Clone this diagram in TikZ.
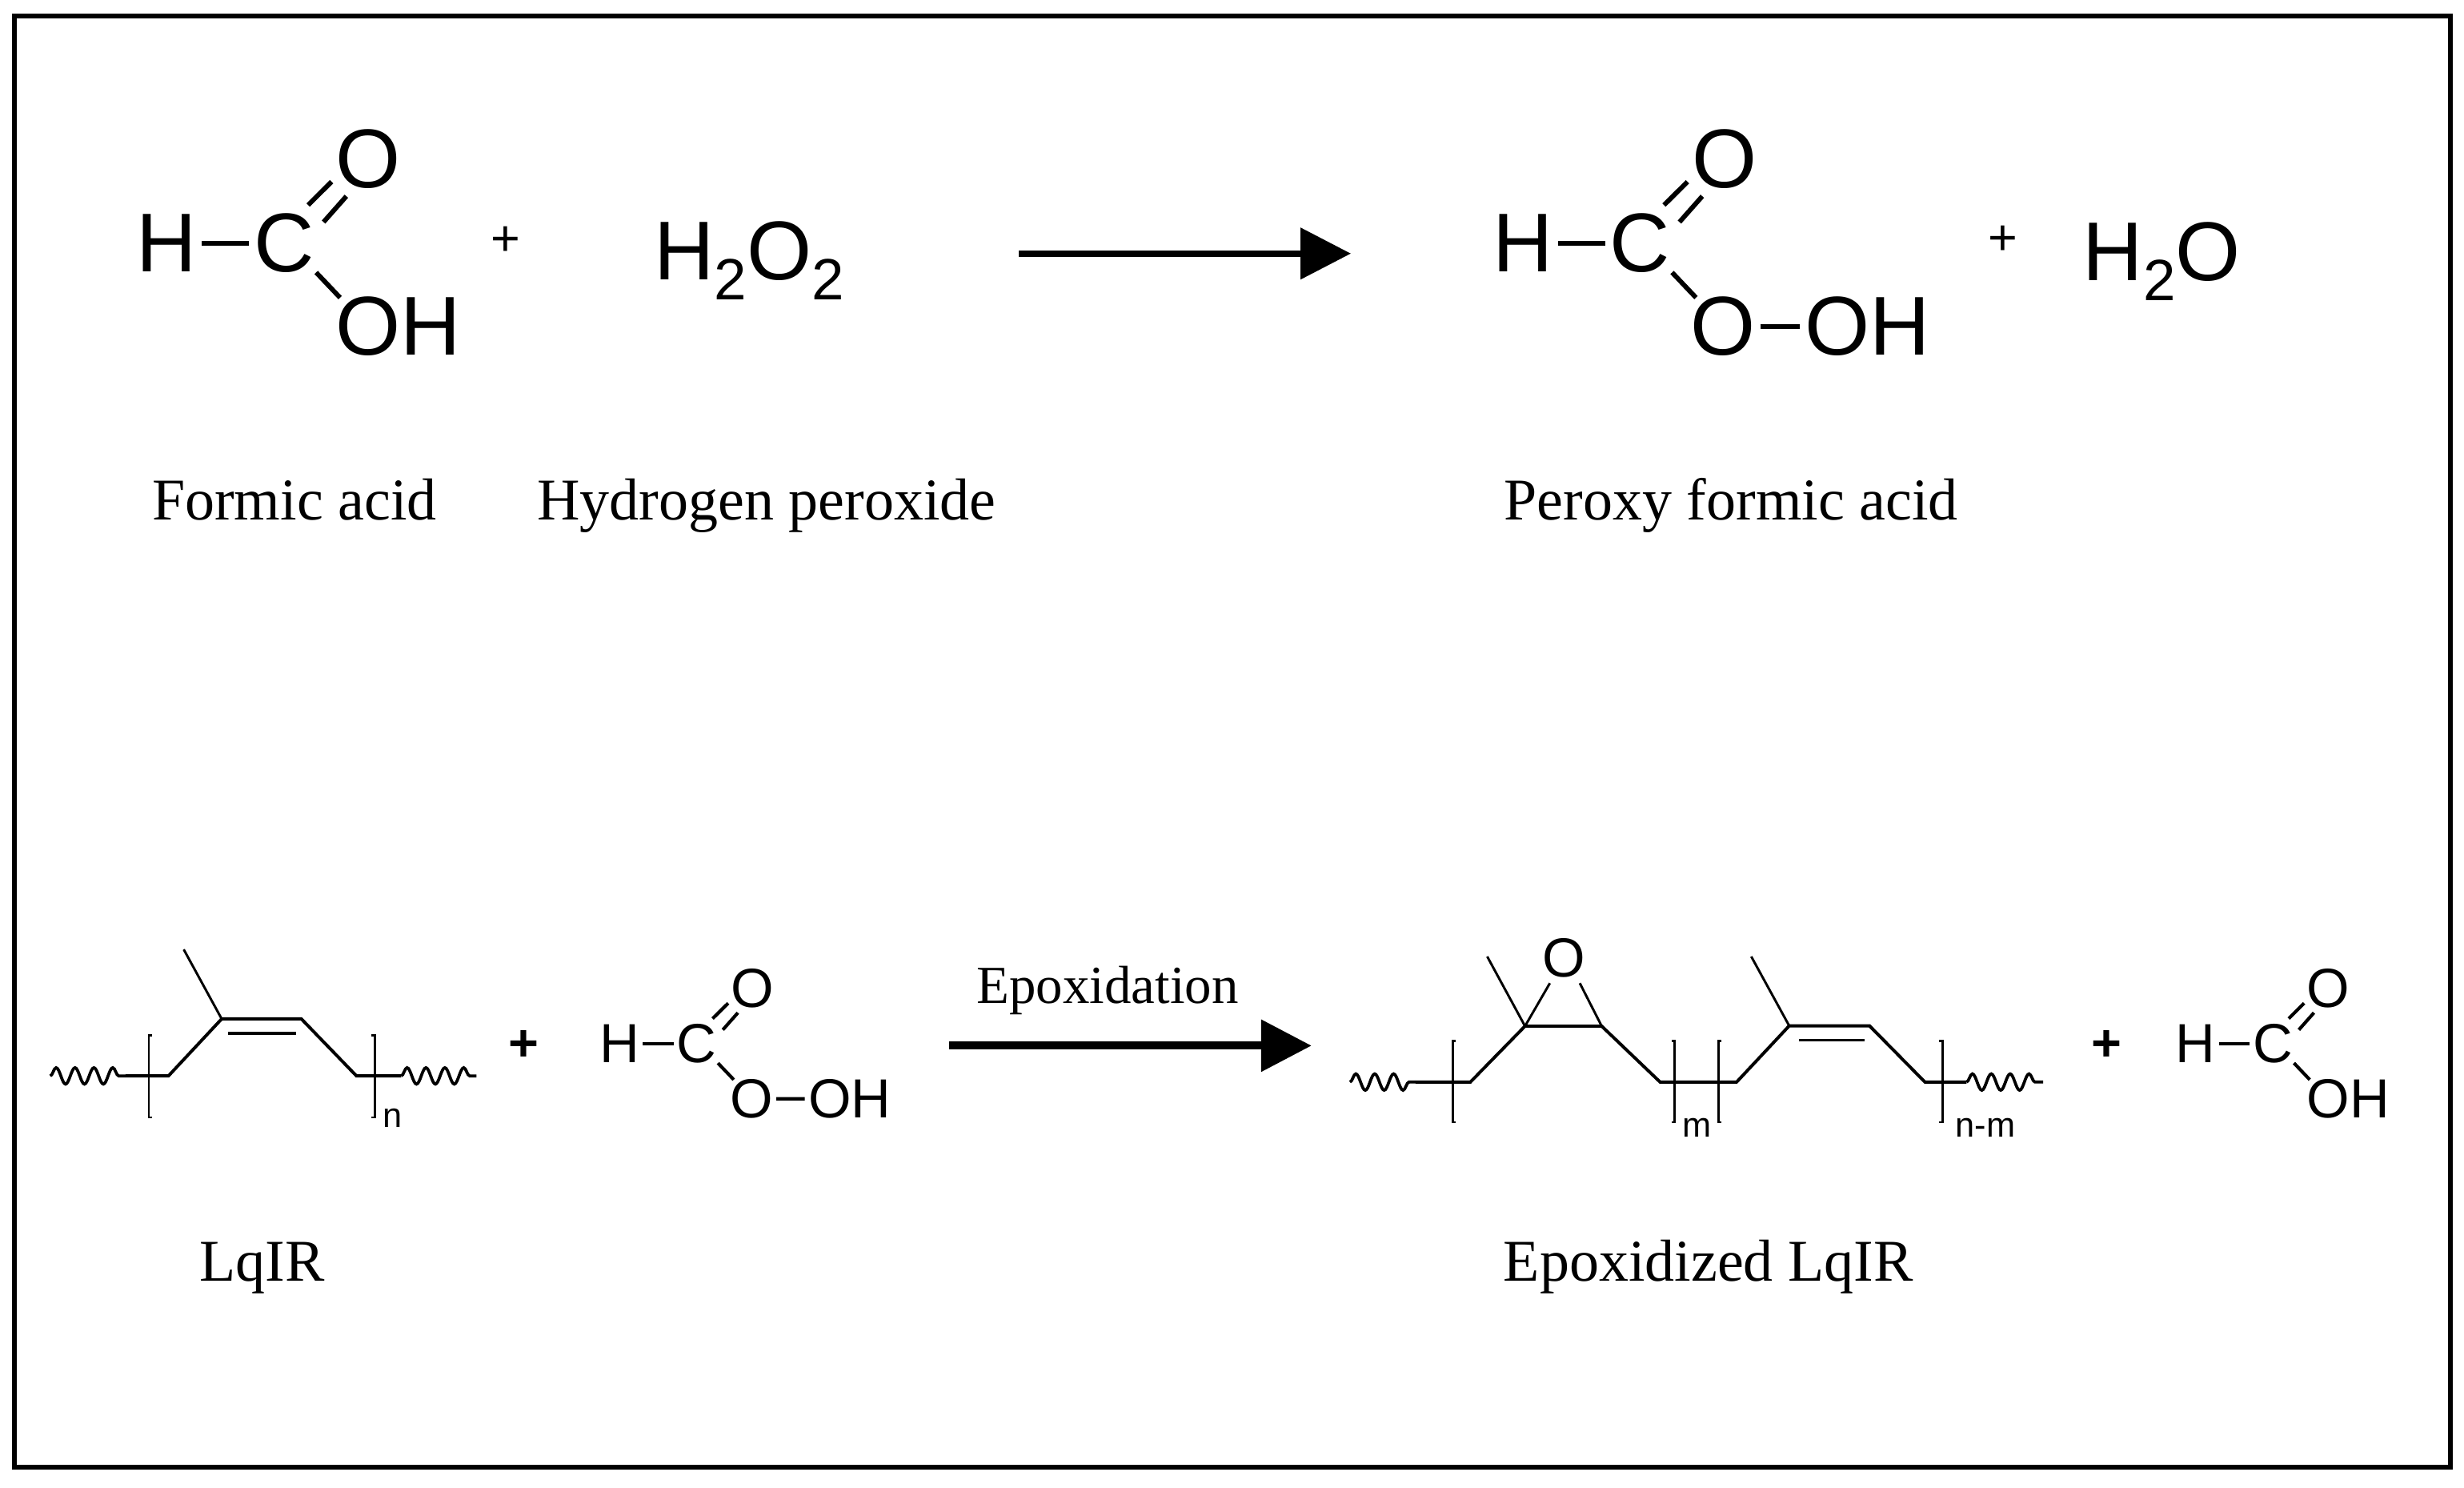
\documentclass[tikz,border=0pt]{standalone}
\usepackage{fontspec}
\setmainfont{Liberation Serif}
\newfontfamily\chemfont{Liberation Sans}
\usetikzlibrary{arrows.meta,decorations.pathmorphing}
\tikzset{
  atom/.style={inner sep=0pt,outer sep=0pt},
  bigatom/.style={atom,font=\chemfont\fontsize{26.5}{30}\selectfont},
  smallatom/.style={atom,font=\chemfont\fontsize{17.5}{20}\selectfont},
  bigbond/.style={line width=1.5pt,black},
  smallbond/.style={line width=1.05pt,black},
  biglink/.style={bigbond,shorten >=1.6pt,shorten <=1.6pt},
  smalllink/.style={smallbond,shorten >=1.1pt,shorten <=1.1pt},
  chain/.style={line width=1pt,black,line join=miter},
  thinchain/.style={line width=0.75pt,black},
  squig/.style={line width=0.95pt,black,decorate,decoration={snake,segment length=6pt,amplitude=2.6pt}},
  bracket/.style={line width=0.7pt,black},
  caption/.style={inner sep=0pt,anchor=base,font=\fontsize{18.8}{22}\selectfont},
  plus/.style={inner sep=0pt,font=\chemfont\fontsize{16}{18}\selectfont},
  boldplus/.style={plus,font=\chemfont\bfseries\fontsize{16.5}{18}\selectfont},
  subs/.style={inner sep=0pt,font=\chemfont\fontsize{11}{12}\selectfont},
  reactarrow/.style={black,-{Triangle[length=16pt,width=16pt]}},
}
% prefix, x, y, scale, atom style, bond style, link style
\newcommand{\formyl}[7]{%
  \begin{scope}[shift={(#2,#3)},scale=#4]
    \node[#5] (#1C) at (0,0) {C};
    \node[#5] (#1H) at (-74.5,0) {H};
    \node[#5] (#1O) at (53.5,-53.3) {O};
    \coordinate (#1da) at (15.2,-24.1);
    \coordinate (#1db) at (30.1,-38.9);
    \coordinate (#1dc) at (25,-13.3);
    \coordinate (#1dd) at (39.5,-29.7);
    \coordinate (#1sa) at (20.3,18.7);
    \coordinate (#1sb) at (35.5,34.7);
    \draw[#7] (#1H) -- (#1C);
    \draw[#6] (#1da) -- (#1db);
    \draw[#6] (#1dc) -- (#1dd);
    \draw[#6] (#1sa) -- (#1sb);
  \end{scope}}
\newcommand{\acid}[7]{%
  \formyl{#1}{#2}{#3}{#4}{#5}{#6}{#7}%
  \begin{scope}[shift={(#2,#3)},scale=#4]
    \node[#5] (#1OH) at (72.65,53.1) {OH};
  \end{scope}}
% #8 = x offset of OH
\newcommand{\peracid}[8]{%
  \formyl{#1}{#2}{#3}{#4}{#5}{#6}{#7}%
  \begin{scope}[shift={(#2,#3)},scale=#4]
    \node[#5] (#1Q) at (52.5,53.1) {O};
    \node[#5] (#1OH) at (#8,53.1) {OH};
    \draw[#7] (#1Q) -- (#1OH);
  \end{scope}}
\begin{document}
\begin{tikzpicture}[x=0.5pt,y=-0.5pt]
\path[use as bounding box,fill=white] (0,0) rectangle (1565,944.4);
\node[inner sep=0pt,outer sep=0pt,draw=black,line width=1.5pt,minimum width=773.6pt,minimum height=460.9pt,anchor=north west] (frame) at (9,10) {};

% top row
\acid{fa}{180.5}{154.3}{1}{bigatom}{bigbond}{biglink}
\node[plus] (p1) at (321,153) {+};
\node[inner sep=0pt,anchor=base west,font=\chemfont\fontsize{26.5}{30}\selectfont] (hp) at (415,177.5) {H\raisebox{-6.5pt}{\fontsize{18.5}{20}\selectfont 2}O\raisebox{-6.5pt}{\fontsize{18.5}{20}\selectfont 2}};
\coordinate (a1s) at (647,161);
\coordinate (a1e) at (858,161);
\draw[reactarrow,line width=2pt] (a1s) -- (a1e);
\peracid{pf}{1041.7}{154.3}{1}{bigatom}{bigbond}{biglink}{144.3}
\node[plus] (p2) at (1272,152.6) {+};
\node[inner sep=0pt,anchor=base west,font=\chemfont\fontsize{26.5}{30}\selectfont] (wat) at (1322.5,178) {H\raisebox{-6.5pt}{\fontsize{18.5}{20}\selectfont 2}O};

\node[caption] (c1) at (187,330) {Formic acid};
\node[caption] (c2) at (487,330) {Hydrogen peroxide};
\node[caption] (c3) at (1099.5,330) {Peroxy formic acid};

% bottom left polymer
\coordinate (w1a) at (31.9,683.2);
\coordinate (w1b) at (79.7,683.2);
\coordinate (l1) at (107,683.2);
\coordinate (l2) at (140.8,647);
\coordinate (l3) at (191.4,647);
\coordinate (l4) at (226.4,683.2);
\coordinate (l5) at (254.8,683.2);
\coordinate (w1c) at (302.6,683.2);
\coordinate (lm) at (116.7,602.9);
\coordinate (li1) at (144.7,656.4);
\coordinate (li2) at (187.9,656.4);
\draw[squig] (w1a) -- (w1b);
\draw[chain] (w1b) -- (l1) -- (l2) -- (l3) -- (l4) -- (l5);
\draw[squig] (l5) -- (w1c);
\draw[thinchain] (lm) -- (l2);
\draw[chain] (li1) -- (li2);
\draw[bracket] (96.5,657.3) -- (94.5,657.3) -- (94.5,709.6) -- (96.5,709.6);
\draw[bracket] (236,657.3) -- (238,657.3) -- (238,709.6) -- (236,709.6);
\node[subs] (sn) at (249.5,710) {n};

\node[boldplus] (p3) at (332.6,664) {+};
\peracid{pb}{442.6}{662.7}{0.66}{smallatom}{smallbond}{smalllink}{147}
\coordinate (a2s) at (603,664);
\coordinate (a2e) at (833,664);
\draw[reactarrow,line width=2.5pt] (a2s) -- (a2e);
\node[inner sep=0pt,anchor=base,font=\fontsize{17}{20}\selectfont] (ep) at (703.5,637) {Epoxidation};

% bottom right polymer
\coordinate (r0) at (857.4,687.1);
\coordinate (r1) at (899.1,687.1);
\coordinate (r2) at (933.9,687.1);
\coordinate (r3) at (968.6,651.6);
\coordinate (r4) at (1017.3,651.6);
\coordinate (r5) at (1054.4,687.1);
\coordinate (r6) at (1103,687.1);
\coordinate (r7) at (1136.4,651.4);
\coordinate (r8) at (1187.4,651.4);
\coordinate (r9) at (1222.6,687.1);
\coordinate (r10) at (1249,687.1);
\coordinate (r11) at (1297.7,687.1);
\coordinate (rm1) at (944.6,607.4);
\coordinate (rm2) at (1112.3,607.4);
\coordinate (ri1) at (1142.4,660.5);
\coordinate (ri2) at (1184.2,660.5);
\coordinate (ro1) at (984.4,624.3);
\coordinate (ro2) at (1003.4,624.3);
\draw[squig] (r0) -- (r1);
\draw[chain] (r1) -- (r2) -- (r3) -- (r4) -- (r5) -- (r6) -- (r7) -- (r8) -- (r9) -- (r10);
\draw[squig] (r10) -- (r11);
\draw[thinchain] (rm1) -- (r3);
\draw[thinchain] (rm2) -- (r7);
\draw[chain] (ri1) -- (ri2);
\draw[thinchain] (r3) -- (ro1);
\draw[thinchain] (r4) -- (ro2);
\node[smallatom] (eo) at (993.2,608.3) {O};
\draw[bracket] (924.8,660.9) -- (922.8,660.9) -- (922.8,712.6) -- (924.8,712.6);
\draw[bracket] (1061.6,660.9) -- (1063.6,660.9) -- (1063.6,712.6) -- (1061.6,712.6);
\draw[bracket] (1093.4,660.9) -- (1091.4,660.9) -- (1091.4,712.6) -- (1093.4,712.6);
\draw[bracket] (1231.7,660.9) -- (1233.7,660.9) -- (1233.7,712.6) -- (1231.7,712.6);
\node[subs] (sm) at (1077.6,716) {m};
\node[subs] (snm) at (1261,716) {n-m};

\node[boldplus] (p4) at (1338,664) {+};
\acid{fb}{1443.6}{662.7}{0.66}{smallatom}{smallbond}{smalllink}

\node[caption] (c4) at (166.5,813.6) {LqIR};
\node[caption] (c5) at (1085,813.6) {Epoxidized LqIR};
\end{tikzpicture}
\end{document}
